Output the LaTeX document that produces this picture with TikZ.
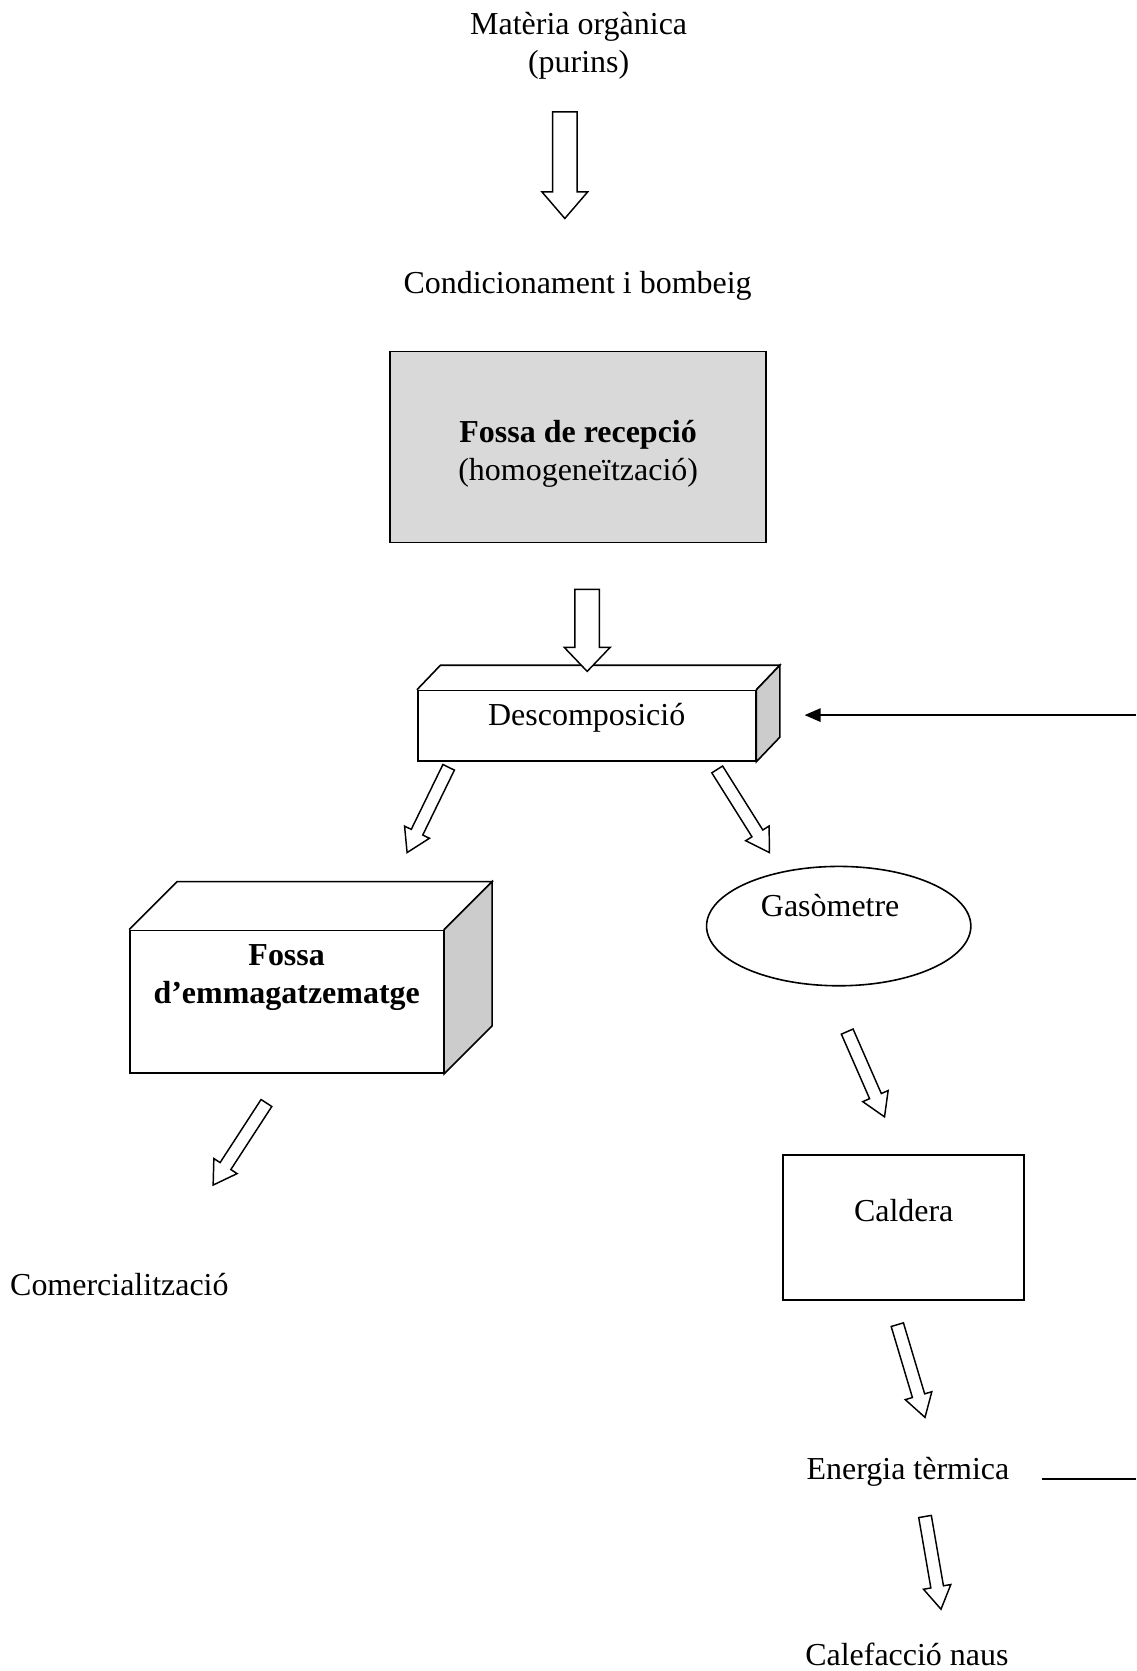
\documentclass[tikz,border=0pt]{standalone}
\usepackage{fontspec}
\setmainfont{Liberation Serif}
\usetikzlibrary{calc,shapes.geometric,arrows.meta}

\definecolor{boxgray}{RGB}{217,217,217}
\definecolor{sidegray}{RGB}{204,204,204}

\tikzset{
	every node/.style={font=\fontsize{12}{14.4}\selectfont},
	frame/.style={draw, line width=0.6pt, inner sep=0pt, align=center},
	hollow/.style={draw, fill=white, line width=0.55pt},
	feed/.style={line width=0.7pt, -{Triangle[length=6pt,width=5pt]}},
}

% hollow block arrow, tail #1, tip #2, half shaft #3, half head #4, head length #5
\newcommand{\blockarrow}[5]{%
	\coordinate (ba) at ($(#2)!#5!(#1)$);
	\draw[hollow] ($(#1)!#3!90:(#2)$) -- ($(ba)!#3!90:(#2)$)
		-- ($(ba)!#4!90:(#2)$) -- (#2) -- ($(ba)!#4!-90:(#2)$)
		-- ($(ba)!#3!-90:(#2)$) -- ($(#1)!#3!-90:(#2)$) -- cycle;}

% top and side faces of a box node #1, depth (#2,#3)
\newcommand{\boxfaces}[3]{%
	\draw[line width=0.6pt] (#1.north west) -- ++(#2,#3) -- ($(#1.north east)+(#2,#3)$) -- (#1.north east);
	\draw[line width=0.6pt, fill=sidegray] (#1.north east) -- ($(#1.north east)+(#2,#3)$)
		-- ($(#1.south east)+(#2,#3)$) -- (#1.south east) -- cycle;}

\begin{document}
\begin{tikzpicture}[x=0.4pt, y=-0.4pt]
	\useasboundingbox (0,0) rectangle (1066,1568);

	\node[align=center] (mat) at (543,43) {Matèria orgànica\\(purins)};
	\node (cond) at (542,268) {Condicionament i bombeig};
	\node[frame, fill=boxgray, minimum width=141.2pt, minimum height=71.6pt, text height=27.7pt] (recep) at (542.5,419.5)
		{\textbf{Fossa de recepció}\\(homogeneïtzació)};

	\node[frame, minimum width=126.8pt, minimum height=26.4pt, text depth=8.2pt] (desc) at (550.5,681) {Descomposició};
	\boxfaces{desc}{22}{-23}

	\node[frame, font=\fontsize{12}{14.4}\selectfont\bfseries, minimum width=117.6pt, minimum height=53.6pt, text depth=21pt]
		(emm) at (269,940) {Fossa\\d’emmagatzematge};
	\boxfaces{emm}{45}{-45}

	\node[frame, ellipse, minimum width=99.2pt, minimum height=44.8pt, text depth=15.4pt] (gas) at (787,869) {Gasòmetre\hspace*{6.4pt}};
	\node[frame, minimum width=90.4pt, minimum height=54.4pt, text depth=12.8pt] (cald) at (848,1152) {Caldera};

	\node (com) at (112,1205) {Comercialització};
	\node (ener) at (852,1381) {Energia tèrmica};
	\node (calef) at (851,1552) {Calefacció naus};

	% block arrows
	\coordinate (a1s) at (530,105);  \coordinate (a1t) at (530,205);
	\coordinate (a2s) at (551,553);  \coordinate (a2t) at (551,630);
	\coordinate (a3s) at (421,720);  \coordinate (a3t) at (382,800);
	\coordinate (a4s) at (673,722);  \coordinate (a4t) at (722,800);
	\coordinate (a5s) at (250,1035); \coordinate (a5t) at (200,1112);
	\coordinate (a6s) at (795,968);  \coordinate (a6t) at (830,1048);
	\coordinate (a7s) at (842,1243); \coordinate (a7t) at (868,1330);
	\coordinate (a8s) at (868,1423); \coordinate (a8t) at (883,1510);
	\foreach \i/\w/\h/\l in {1/4.6pt/8.6pt/10pt, 2/4.6pt/8.6pt/9pt}
		\blockarrow{a\i s}{a\i t}{\w}{\h}{\l};
	\foreach \i in {3,...,8}
		\blockarrow{a\i s}{a\i t}{2.4pt}{5.2pt}{8.5pt};

	% return of heat
	\coordinate (fbin) at (1066,671);  \coordinate (fbtip) at (755,671);
	\coordinate (fbend) at (1066,1388); \coordinate (fbstart) at (978,1388);
	\draw[feed] (fbin) -- (fbtip);
	\draw[line width=0.7pt] (fbstart) -- (fbend);
\end{tikzpicture}
\end{document}
